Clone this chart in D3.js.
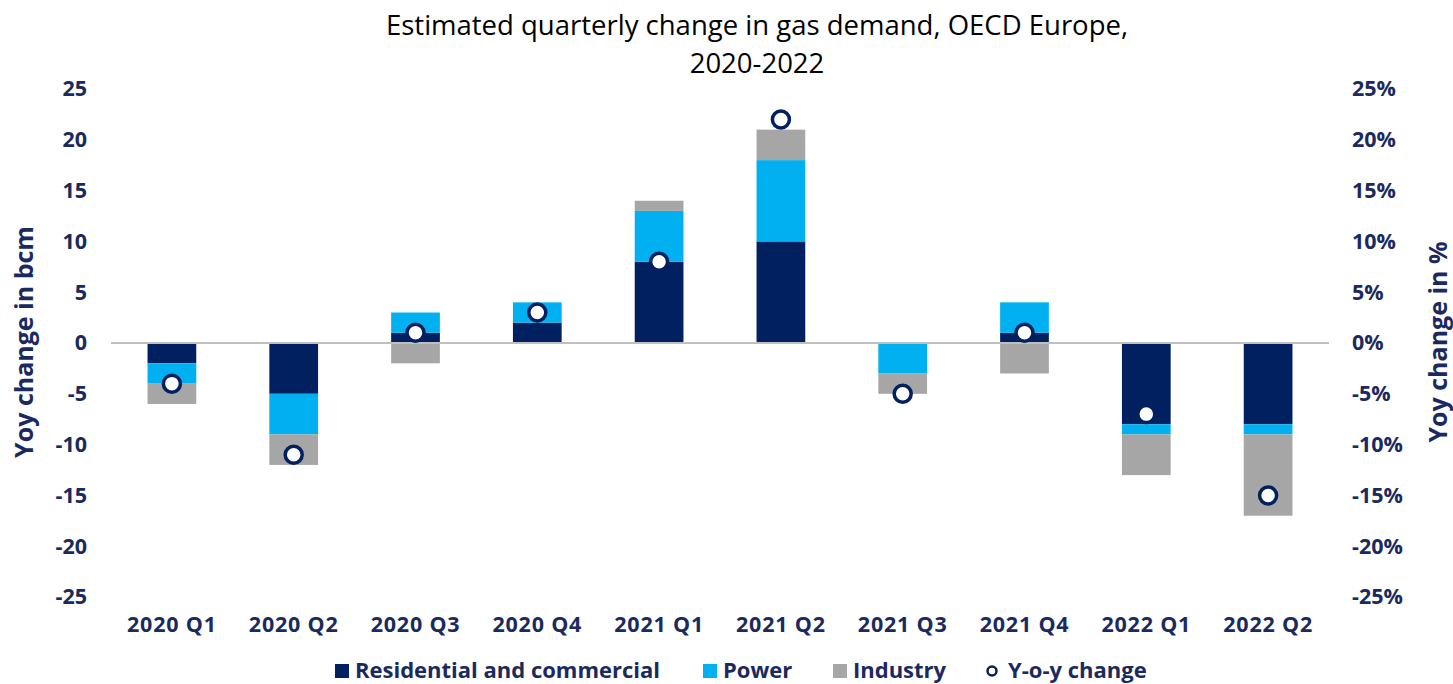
<!DOCTYPE html>
<html>
<head>
<meta charset="utf-8">
<script src="https://cdn.jsdelivr.net/npm/d3@7"></script>
<style>
  body { margin: 0; background: #fff; }
  svg { display: block; font-family: "Open Sans", "Noto Sans", sans-serif; }
</style>
</head>
<body>
<div id="chart"></div>
<script>
'use strict';

// Data
const quarters = ['2020 Q1', '2020 Q2', '2020 Q3', '2020 Q4', '2021 Q1', '2021 Q2', '2021 Q3', '2021 Q4', '2022 Q1', '2022 Q2'];
const residential = [-2, -5, 1, 2, 8, 10, 0, 1, -8, -8];
const power = [-2, -4, 2, 2, 5, 8, -3, 3, -1, -1];
const industry = [-2, -3, -2, 0, 1, 3, -2, -3, -4, -8];
const yoyPct = [-4, -11, 1, 3, 8, 22, -5, 1, -7, -15];
const leftTicks = [25, 20, 15, 10, 5, 0, -5, -10, -15, -20, -25];
const rightTicks = [25, 20, 15, 10, 5, 0, -5, -10, -15, -20, -25];

const seriesNames = ['Residential and commercial', 'Power', 'Industry'];
const seriesColors = ['#002060', '#00B0F0', '#A6A6A6'];
const textColor = '#1B2A5E';

const W = 1453, H = 684;
const plot = { left: 111, right: 1329, top: 89, bottom: 597 };

const svg = d3.select('#chart').append('svg').attr('width', W).attr('height', H);

const x = d3.scaleBand().domain(quarters).range([plot.left, plot.right]).paddingInner(0.6).paddingOuter(0.3);
const y = d3.scaleLinear().domain([-25, 25]).range([plot.bottom, plot.top]);
const y2 = d3.scaleLinear().domain([-25, 25]).range([plot.bottom, plot.top]);

// Title (two lines)
svg.append('text').attr('x', 757).attr('y', 35).attr('text-anchor', 'middle')
    .attr('font-size', 27.5).attr('fill', '#000').text('Estimated quarterly change in gas demand, OECD Europe,');
svg.append('text').attr('x', 757).attr('y', 73).attr('text-anchor', 'middle')
    .attr('font-size', 27.5).attr('fill', '#000').text('2020-2022');

// Stacked bars (positives stack up, negatives stack down)
const rows = quarters.map((q, i) => ({ q, vals: [residential[i], power[i], industry[i]] }));
rows.forEach(r => {
    let pos = 0, neg = 0;
    r.vals.forEach((v, k) => {
        if (v === 0) return;
        const y0 = v > 0 ? pos : neg;
        const y1 = y0 + v;
        if (v > 0) pos = y1; else neg = y1;
        svg.append('rect')
            .attr('x', x(r.q)).attr('width', x.bandwidth())
            .attr('y', y(Math.max(y0, y1))).attr('height', Math.abs(y(y0) - y(y1)))
            .attr('fill', seriesColors[k]);
    });
});

// Zero line
svg.append('line').attr('x1', plot.left).attr('x2', plot.right)
    .attr('y1', y(0)).attr('y2', y(0)).attr('stroke', '#BFBFBF').attr('stroke-width', 2);

// Y-o-y markers on right axis
svg.selectAll('circle.yoy').data(yoyPct).join('circle')
    .attr('class', 'yoy')
    .attr('cx', (d, i) => x(quarters[i]) + x.bandwidth() / 2)
    .attr('cy', d => y2(d))
    .attr('r', 8.5).attr('fill', '#fff').attr('stroke', '#002060').attr('stroke-width', 3.5);

const styleTicks = sel => sel.selectAll('text')
    .attr('font-size', 21.5).attr('font-weight', 700).attr('fill', textColor)
    .attr('font-family', '"Open Sans", sans-serif');

// Left axis
const leftAxis = svg.append('g').attr('transform', `translate(${plot.left - 24},0)`)
    .call(d3.axisLeft(y).tickValues(leftTicks).tickFormat(d => String(d)).tickSize(0).tickPadding(0));
leftAxis.select('.domain').remove();
styleTicks(leftAxis);

// Right axis
const rightAxis = svg.append('g').attr('transform', `translate(${plot.right + 23},0)`)
    .call(d3.axisRight(y2).tickValues(rightTicks).tickFormat(d => d + '%').tickSize(0).tickPadding(0));
rightAxis.select('.domain').remove();
styleTicks(rightAxis);

// Category axis
const xAxis = svg.append('g').attr('transform', `translate(0,${plot.bottom + 20})`)
    .call(d3.axisBottom(x).tickSize(0).tickPadding(0));
xAxis.select('.domain').remove();
styleTicks(xAxis);
xAxis.selectAll('text').attr('letter-spacing', 0.8);

// Axis titles
svg.append('text').attr('transform', `translate(33,${y(0) - 1}) rotate(-90)`).attr('text-anchor', 'middle')
    .attr('font-size', 25).attr('font-weight', 700).attr('fill', textColor).text('Yoy change in bcm');
svg.append('text').attr('transform', `translate(1447,${y(0) - 1}) rotate(-90)`).attr('text-anchor', 'middle')
    .attr('font-size', 25).attr('font-weight', 700).attr('fill', textColor).text('Yoy change in %');

// Legend
const legendItems = [
    { name: seriesNames[0], x: 335, type: 'rect', color: seriesColors[0] },
    { name: seriesNames[1], x: 703, type: 'rect', color: seriesColors[1] },
    { name: seriesNames[2], x: 833, type: 'rect', color: seriesColors[2] },
    { name: 'Y-o-y change', x: 986, type: 'circle' }
];
const legendY = 671;
legendItems.forEach(it => {
    if (it.type === 'rect') {
        svg.append('rect').attr('x', it.x).attr('y', legendY - 7).attr('width', 14).attr('height', 14).attr('fill', it.color);
    } else {
        svg.append('circle').attr('cx', it.x + 6).attr('cy', legendY).attr('r', 4.5)
            .attr('fill', '#fff').attr('stroke', '#002060').attr('stroke-width', 2.5);
    }
    svg.append('text').attr('x', it.x + (it.type === 'rect' ? 20 : 22)).attr('y', legendY + 7)
        .attr('font-size', 22).attr('font-weight', 700).attr('fill', textColor).text(it.name);
});
</script>
</body>
</html>
